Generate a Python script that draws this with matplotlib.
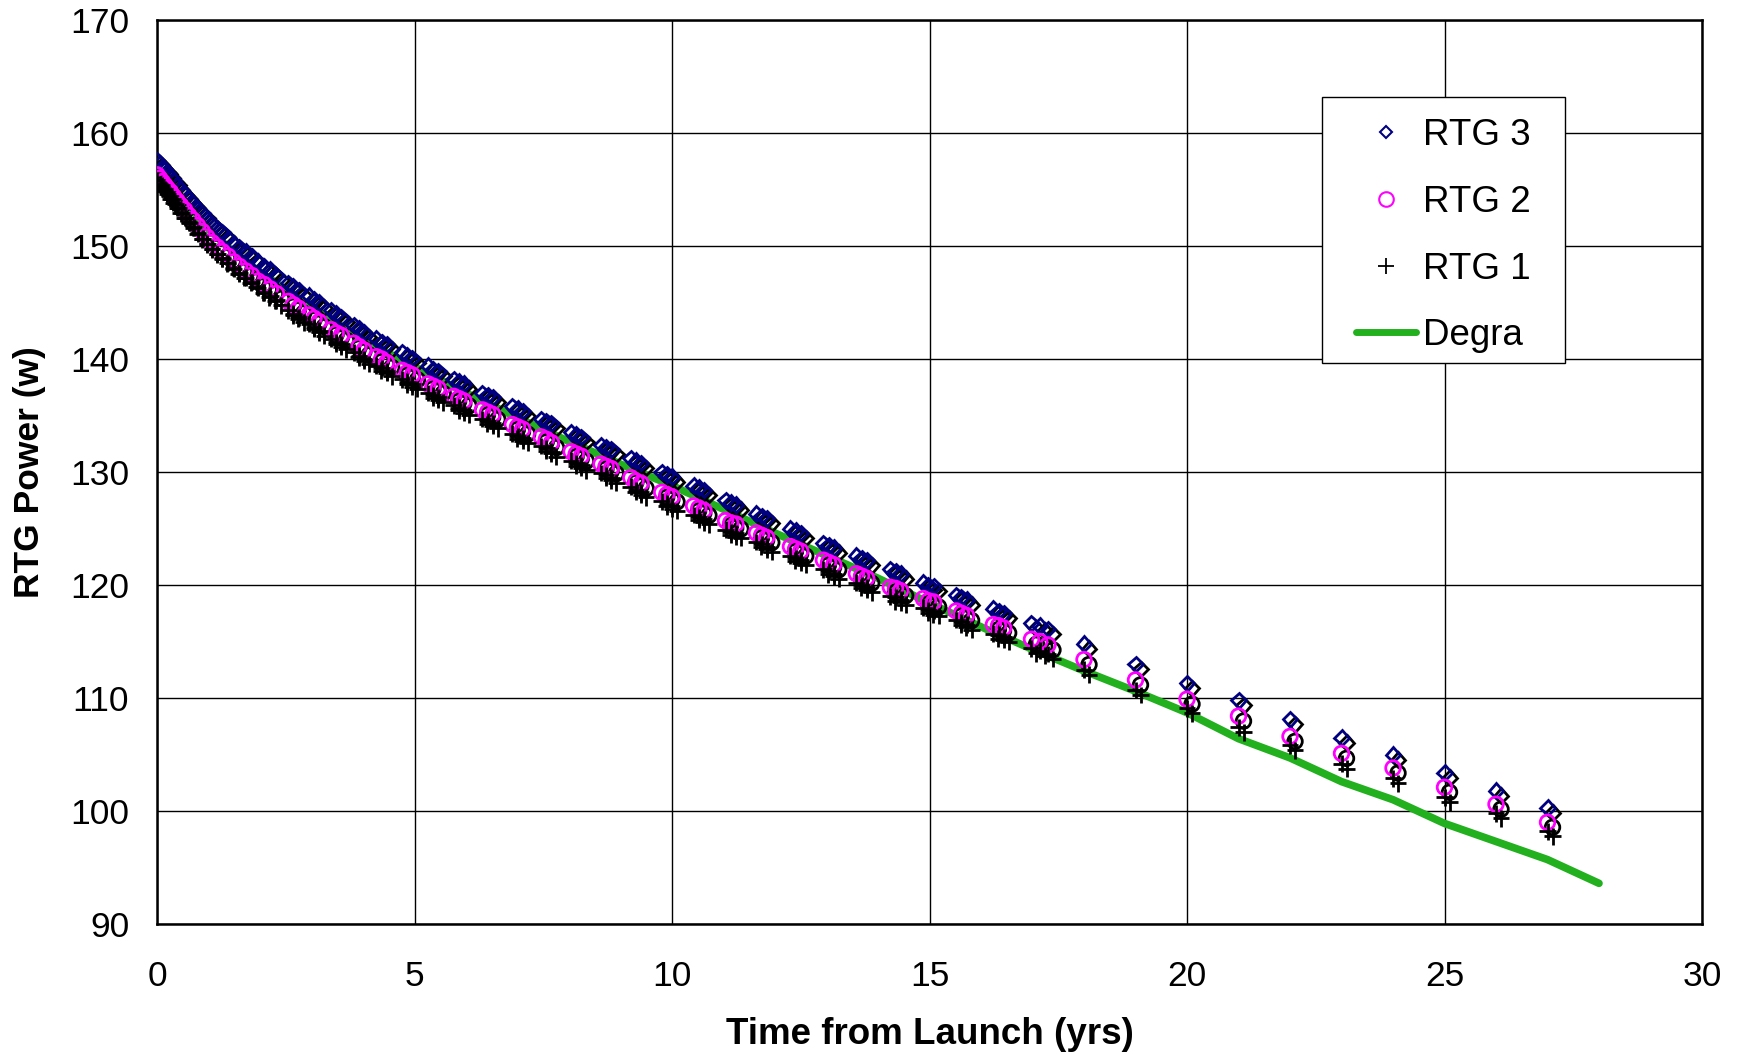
import matplotlib
matplotlib.use('Agg')
import matplotlib.pyplot as plt
import matplotlib.patheffects as pe
from matplotlib.lines import Line2D
from matplotlib.patches import Rectangle
from matplotlib.transforms import IdentityTransform

plt.rcParams['font.family'] = ['Liberation Sans', 'DejaVu Sans']

# time from launch (yrs) for the measured points
t_meas = [0.00, 0.05, 0.10, 0.15, 0.20, 0.26, 0.32, 0.39, 0.46, 0.54, 0.62, 0.70, 0.79, 0.88,
          0.97, 1.07, 1.17, 1.27, 1.38, 1.49, 1.60, 1.72, 1.84, 1.96, 2.08, 2.20, 2.32,
          2.55, 2.65, 2.75, 2.95, 3.05, 3.15, 3.38, 3.48, 3.58, 3.82, 3.92, 4.02,
          4.26, 4.36, 4.46, 4.76, 4.86, 4.96, 5.26, 5.36, 5.46, 5.76, 5.86, 5.96,
          6.32, 6.42, 6.52, 6.90, 7.00, 7.10, 7.46, 7.56, 7.66, 8.04, 8.14, 8.24,
          8.62, 8.72, 8.82, 9.20, 9.30, 9.40, 9.80, 9.90, 10.00, 10.42, 10.52, 10.62,
          11.04, 11.14, 11.24, 11.64, 11.74, 11.84, 12.30, 12.40, 12.50, 12.94, 13.04, 13.14,
          13.58, 13.68, 13.78, 14.24, 14.34, 14.44, 14.88, 14.98, 15.08, 15.52, 15.62, 15.72,
          16.24, 16.34, 16.44, 16.98, 17.14, 17.30,
          18, 19, 20, 21, 22, 23, 24, 25, 26, 27]

rtg3 = [157.6, 157.3, 157.0, 156.8, 156.5, 156.1, 155.8, 155.4, 155.0, 154.6, 154.2, 153.8, 153.3, 152.9,
        152.4, 152.0, 151.6, 151.2, 150.7, 150.2, 149.9, 149.5, 149.1, 148.6, 148.2, 147.9, 147.4,
        146.7, 146.4, 146.1, 145.6, 145.3, 145.0, 144.3, 144.0, 143.7, 143.0, 142.7, 142.4,
        141.8, 141.5, 141.3, 140.6, 140.3, 140.1, 139.4, 139.1, 138.9, 138.2, 138.0, 137.8,
        137.0, 136.8, 136.6, 135.8, 135.6, 135.4, 134.7, 134.5, 134.3, 133.5, 133.3, 133.1,
        132.4, 132.2, 132.0, 131.2, 131.0, 130.8, 130.0, 129.8, 129.6, 128.8, 128.6, 128.4,
        127.5, 127.3, 127.1, 126.3, 126.1, 125.9, 125.0, 124.8, 124.6, 123.7, 123.5, 123.3,
        122.6, 122.4, 122.2, 121.4, 121.2, 121.0, 120.2, 120.0, 119.9, 119.1, 118.9, 118.7,
        117.9, 117.7, 117.5, 116.6, 116.4, 116.1,
        114.8, 113.0, 111.3, 109.8, 108.1, 106.5, 105.0, 103.4, 101.8, 100.3]

rtg2 = [156.3, 156.0, 155.7, 155.4, 155.1, 154.8, 154.4, 154.0, 153.6, 153.2, 152.7, 152.3, 151.8, 151.3,
        150.8, 150.3, 149.9, 149.5, 149.1, 148.6, 148.2, 147.8, 147.4, 146.9, 146.6, 146.2, 145.8,
        145.1, 144.8, 144.5, 143.9, 143.6, 143.3, 142.6, 142.3, 142.1, 141.4, 141.1, 140.8,
        140.2, 140.0, 139.7, 139.0, 138.8, 138.6, 137.8, 137.6, 137.4, 136.7, 136.5, 136.3,
        135.5, 135.3, 135.1, 134.2, 134.0, 133.8, 133.1, 132.9, 132.6, 131.8, 131.6, 131.4,
        130.7, 130.5, 130.3, 129.5, 129.2, 129.0, 128.2, 128.0, 127.8, 127.0, 126.8, 126.6,
        125.7, 125.5, 125.4, 124.6, 124.4, 124.2, 123.4, 123.2, 123.0, 122.2, 122.0, 121.8,
        121.0, 120.8, 120.6, 119.8, 119.7, 119.5, 118.8, 118.6, 118.5, 117.7, 117.5, 117.3,
        116.5, 116.4, 116.2, 115.2, 115.0, 114.7,
        113.4, 111.6, 109.9, 108.4, 106.6, 105.1, 103.8, 102.1, 100.6, 99.0]

rtg1 = [155.8, 155.5, 155.2, 154.9, 154.6, 154.2, 153.8, 153.4, 152.9, 152.5, 152.1, 151.6, 151.1, 150.6,
        150.2, 149.7, 149.3, 148.9, 148.5, 148.0, 147.6, 147.2, 146.8, 146.3, 145.9, 145.6, 145.2,
        144.3, 144.0, 143.7, 143.1, 142.8, 142.5, 141.8, 141.5, 141.3, 140.6, 140.3, 140.0,
        139.4, 139.2, 138.9, 138.2, 138.0, 137.8, 137.0, 136.8, 136.6, 135.9, 135.7, 135.5,
        134.7, 134.5, 134.3, 133.4, 133.2, 133.0, 132.3, 132.1, 131.8, 131.0, 130.8, 130.6,
        129.9, 129.7, 129.5, 128.7, 128.4, 128.2, 127.4, 127.2, 127.0, 126.2, 126.0, 125.8,
        124.9, 124.7, 124.6, 123.8, 123.6, 123.4, 122.6, 122.4, 122.2, 121.4, 121.2, 121.0,
        120.2, 120.0, 119.8, 119.0, 118.9, 118.7, 118.0, 117.8, 117.7, 116.9, 116.7, 116.5,
        115.7, 115.6, 115.4, 114.4, 114.2, 113.9,
        112.5, 110.7, 109.1, 107.4, 105.8, 104.2, 102.9, 101.2, 99.8, 98.2]

# degradation model curve
t_degra = [0, 0.25, 0.5, 1.0, 1.5, 2, 3, 4, 5, 6, 7, 8, 9, 10, 11, 12, 13, 14,
           15, 16, 17, 18, 19, 20, 21, 22, 23, 24, 25, 26, 27, 28]
degra = [157.0, 155.6, 154.1, 151.5, 149.4, 147.7, 144.6, 141.7, 139.3, 137.0, 134.8,
         132.7, 130.7, 128.8, 126.7, 124.6, 122.6, 120.6, 118.4, 116.3, 114.3, 112.4,
         110.6, 108.7, 106.4, 104.7, 102.6, 101.0, 98.9, 97.3, 95.7, 93.6]

navy = '#000080'
magenta = '#FF00FF'
green = '#22B01E'

fig = plt.figure(figsize=(17.38, 10.54), dpi=100)
ax = fig.add_axes([157 / 1738, 1 - 924 / 1054, (1702 - 157) / 1738, (924 - 20) / 1054])

shadow = [pe.SimpleLineShadow(offset=(3.6, -3.6), shadow_color='black', alpha=1.0), pe.Normal()]

ax.plot(t_degra, degra, color=green, lw=5.5, solid_capstyle='round', zorder=2)
ax.plot(t_meas, rtg3, ls='none', marker='D', ms=7.5, mfc='none', mec=navy, mew=2.0,
        path_effects=shadow, zorder=3)
ax.plot(t_meas, rtg2, ls='none', marker='o', ms=10.5, mfc='none', mec=magenta, mew=2.0,
        path_effects=shadow, zorder=4)
ax.plot(t_meas, rtg1, ls='none', marker='+', ms=12, mec='black', mew=2.0,
        path_effects=shadow, zorder=5)

ax.set_xlim(0, 30)
ax.set_ylim(90, 170)
ax.set_xticks(range(0, 31, 5))
ax.set_yticks(range(90, 171, 10))
ax.grid(True, color='black', lw=1.0)
ax.set_axisbelow(True)
for s in ax.spines.values():
    s.set_linewidth(1.8)
    s.set_color('black')
ax.tick_params(axis='x', length=0, pad=26, labelsize=25.5)
ax.tick_params(axis='y', length=0, pad=20, labelsize=25.5)

ax.set_xlabel('Time from Launch (yrs)', fontsize=26.5, fontweight='bold', labelpad=17)
ax.set_ylabel('RTG Power (w)', fontsize=25.5, fontweight='bold', labelpad=17)

handles = [
    Line2D([], [], ls='none', marker='D', ms=6.5, mfc='none', mec=navy, mew=1.5),
    Line2D([], [], ls='none', marker='o', ms=10.5, mfc='none', mec=magenta, mew=1.5),
    Line2D([], [], ls='none', marker='+', ms=11, mec='black', mew=1.3),
    Line2D([], [], color=green, lw=5, solid_capstyle='round'),
]
labels = ['RTG 3', 'RTG 2', 'RTG 1', 'Degra']
leg = ax.legend(handles, labels, loc='upper left',
                bbox_to_anchor=(1335 / 1738, 1 - 97 / 1054), bbox_transform=fig.transFigure,
                frameon=False, borderaxespad=0, borderpad=0.58, fontsize=26.5,
                handlelength=1.62, handletextpad=0.18, labelspacing=0.86)
leg.set_zorder(7)

fig.canvas.draw()
bb = leg.get_window_extent()
frame = Rectangle((bb.x0 - 13, bb.y0 + 12), bb.width + 26, bb.height - 12,
                  transform=IdentityTransform(),
                  facecolor='white', edgecolor='black', lw=1.0, zorder=6, clip_on=False)
ax.add_artist(frame)

fig.savefig('out.png', dpi=100)
